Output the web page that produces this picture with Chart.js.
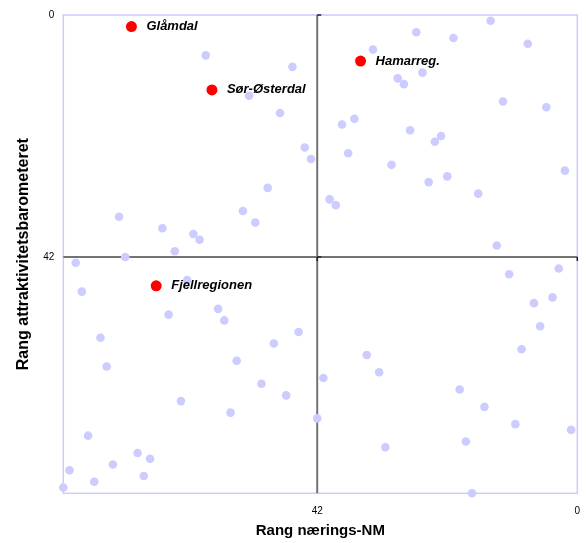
<!DOCTYPE html>
<html>
<head>
<meta charset="utf-8">
<script src="https://cdn.jsdelivr.net/npm/chart.js@4/dist/chart.umd.min.js"></script>
<style>
  html, body { margin: 0; padding: 0; background: #ffffff; }
  #wrap { width: 586px; height: 543px; position: relative; }
</style>
</head>
<body>
<div id="wrap"><canvas id="c" width="586" height="543"></canvas></div>
<script>
// ---- data (ranks) ----
const highlightNames = ['Glåmdal', 'Sør-Østerdal', 'Hamarreg.', 'Fjellregionen'];
const highlightX = [72, 59, 35, 68];   // Rang nærings-NM
const highlightY = [2, 13, 8, 47];     // Rang attraktivitetsbarometeret

const otherX = [60, 74, 67, 62, 61, 65, 73, 33, 46, 53, 29, 28, 48, 36, 38, 44, 43, 37, 30, 50,
                40, 39, 54, 52, 14, 26, 20, 8, 25, 12, 5, 27, 22, 23, 2, 24, 21, 16, 13, 81,
                63, 80, 66, 58, 57, 77, 76, 55, 64, 56, 79, 71, 69, 75, 82, 70, 78, 83, 45, 49,
                51, 47, 41, 42, 34, 32, 31, 11, 3, 7, 4, 6, 9, 19, 15, 10, 1, 18, 17];
const otherY = [7, 35, 37, 38, 39, 41, 42, 6, 9, 14, 11, 12, 17, 18, 19, 23, 25, 24, 26, 30,
                32, 33, 34, 36, 1, 3, 4, 5, 10, 15, 16, 20, 21, 22, 27, 29, 28, 31, 40, 43,
                46, 48, 52, 51, 53, 56, 61, 60, 67, 69, 73, 76, 77, 78, 79, 80, 81, 82, 55, 57,
                64, 66, 63, 70, 59, 62, 75, 45, 44, 50, 49, 54, 58, 65, 68, 71, 72, 74, 83];

const xTickValues = [42, 0];
const yTickValues = [0, 42];
const axisMin = 0;
const axisMax = 83;
const crossAt = 42;
const xTitle = 'Rang nærings-NM';
const yTitle = 'Rang attraktivitetsbarometeret';

const FONT = "'Liberation Sans', Arial, Helvetica, sans-serif";

const highlightData = highlightX.map((x, i) => ({ x: x, y: highlightY[i] }));
const otherData = otherX.map((x, i) => ({ x: x, y: otherY[i] }));

const framePlugin = {
  id: 'frame',
  beforeDatasetsDraw(chart) {
    const { ctx, chartArea: a, scales } = chart;
    const xs = scales.x, ys = scales.y;
    const cx = xs.getPixelForValue(crossAt);
    const cy = ys.getPixelForValue(crossAt);
    ctx.save();
    // plot border
    ctx.strokeStyle = '#ccccff';
    ctx.lineWidth = 1.5;
    ctx.strokeRect(a.left, a.top, a.right - a.left, a.bottom - a.top);
    // crossing axes
    ctx.strokeStyle = '#737373';
    ctx.lineWidth = 2;
    ctx.beginPath();
    ctx.moveTo(cx, a.top);
    ctx.lineTo(cx, a.bottom);
    ctx.moveTo(a.left, cy);
    ctx.lineTo(a.right, cy);
    ctx.stroke();
    // small tick marks on the crossing axes
    ctx.strokeStyle = '#222222';
    ctx.lineWidth = 1.5;
    ctx.beginPath();
    yTickValues.forEach(v => {
      const py = ys.getPixelForValue(v);
      ctx.moveTo(cx, py);
      ctx.lineTo(cx + 4, py);
    });
    xTickValues.forEach(v => {
      const px = xs.getPixelForValue(v);
      ctx.moveTo(px, cy);
      ctx.lineTo(px, cy + 4);
    });
    ctx.stroke();
    ctx.restore();
  },
  afterDatasetsDraw(chart) {
    const { ctx } = chart;
    const meta = chart.getDatasetMeta(0);
    ctx.save();
    ctx.fillStyle = '#000000';
    ctx.font = 'italic bold 13px ' + FONT;
    ctx.textAlign = 'left';
    ctx.textBaseline = 'middle';
    meta.data.forEach((pt, i) => {
      ctx.fillText(highlightNames[i], pt.x + 15, pt.y);
    });
    ctx.restore();
  }
};

new Chart(document.getElementById('c'), {
  type: 'scatter',
  data: {
    datasets: [
      {
        label: 'Utvalgte regioner',
        data: highlightData,
        backgroundColor: '#ff0000',
        borderWidth: 0,
        pointRadius: 5.5,
        pointHoverRadius: 5.5,
        clip: false
      },
      {
        label: 'Andre regioner',
        data: otherData,
        backgroundColor: '#ccccff',
        borderWidth: 0,
        pointRadius: 4.3,
        pointHoverRadius: 4.3,
        clip: false
      }
    ]
  },
  options: {
    responsive: false,
    animation: false,
    events: [],
    layout: { padding: { top: 15, right: 8.7, left: 0, bottom: 0 } },
    plugins: {
      legend: { display: false },
      tooltip: { enabled: false }
    },
    scales: {
      x: {
        type: 'linear',
        position: 'bottom',
        reverse: true,
        min: axisMin,
        max: axisMax,
        afterBuildTicks(scale) { scale.ticks = xTickValues.map(v => ({ value: v })); },
        afterFit(scale) {
          scale.height = 49.7;
          scale.paddingLeft = 0;
          scale.paddingRight = 0;
        },
        grid: { display: false, drawTicks: false },
        border: { display: false },
        ticks: {
          color: '#000000',
          font: { family: FONT, size: 10 },
          padding: 12,
          maxRotation: 0,
          autoSkip: false
        },
        title: {
          display: true,
          text: xTitle,
          color: '#000000',
          font: { family: FONT, size: 15, weight: 'bold' },
          padding: { top: 0, bottom: 3 }
        }
      },
      y: {
        type: 'linear',
        position: 'left',
        reverse: true,
        min: axisMin,
        max: axisMax,
        afterBuildTicks(scale) { scale.ticks = yTickValues.map(v => ({ value: v })); },
        afterFit(scale) {
          scale.width = 63.3;
          scale.paddingTop = 0;
          scale.paddingBottom = 0;
        },
        grid: { display: false, drawTicks: false },
        border: { display: false },
        ticks: {
          color: '#000000',
          font: { family: FONT, size: 10 },
          padding: 9,
          autoSkip: false
        },
        title: {
          display: true,
          text: yTitle,
          color: '#000000',
          font: { family: FONT, size: 16, weight: 'bold' },
          padding: { top: 13.5, bottom: 0 }
        }
      }
    }
  },
  plugins: [framePlugin]
});
</script>
</body>
</html>
